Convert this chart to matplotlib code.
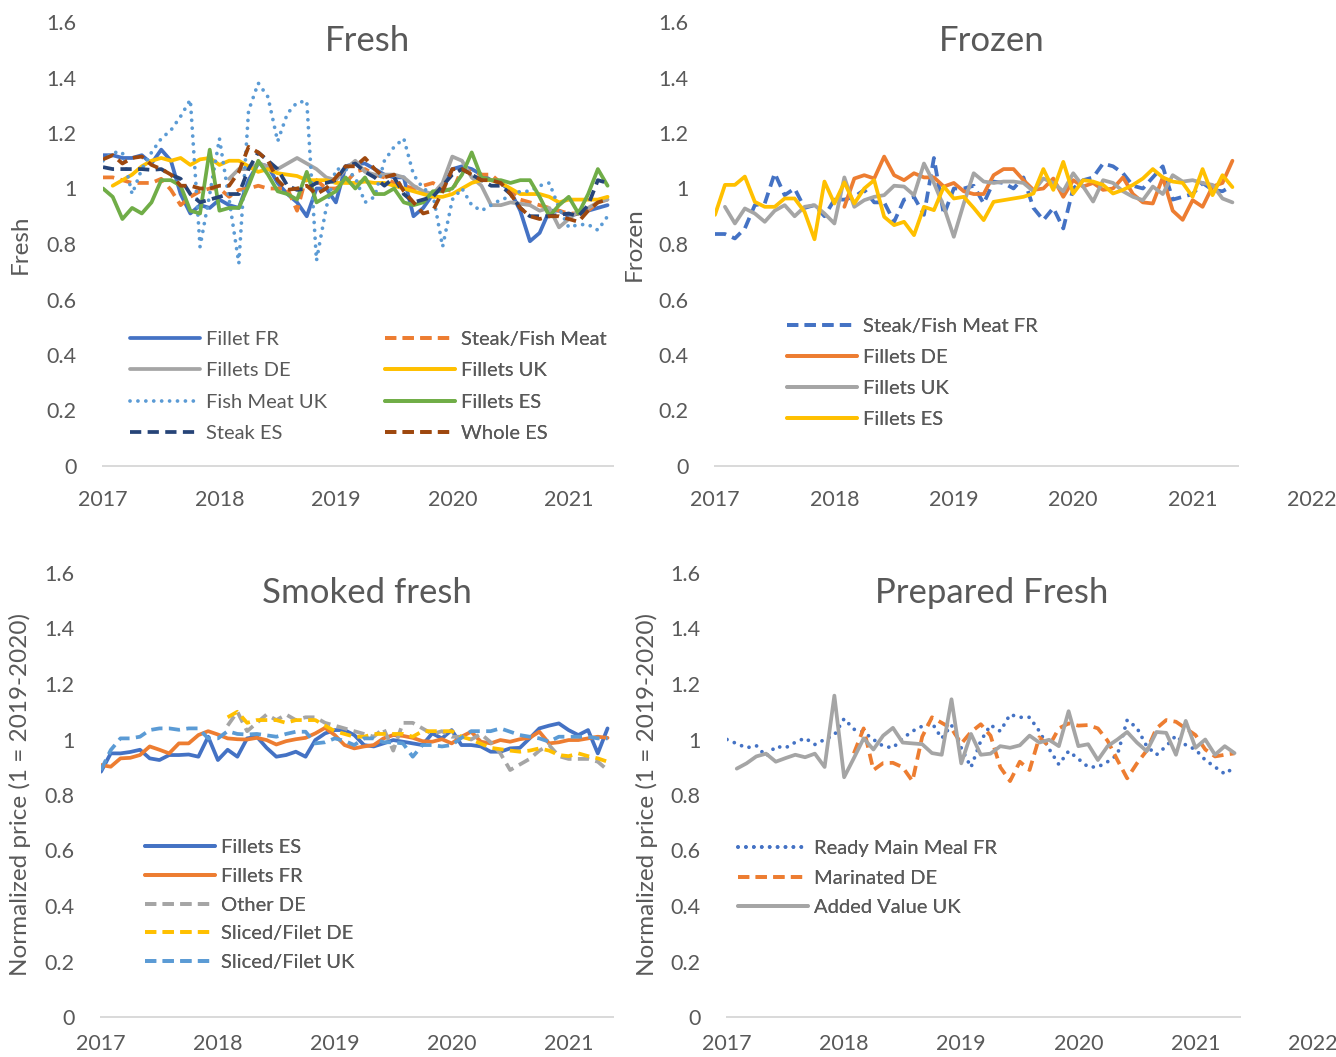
import numpy as np
import matplotlib
matplotlib.use("Agg")
import matplotlib.pyplot as plt
from matplotlib.transforms import blended_transform_factory

nan = np.nan

# ---------------- data (monthly, Jan 2017 .. May 2021) ----------------
months = np.arange(53)
years = 2017 + months / 12.0
year_ticks = [2017, 2018, 2019, 2020, 2021]
y_ticks = [0, 0.2, 0.4, 0.6, 0.8, 1.0, 1.2, 1.4, 1.6]
y_tick_labels = ["0", "0.2", "0.4", "0.6", "0.8", "1", "1.2", "1.4", "1.6"]

# Fresh
fresh_labels = ["Fillet FR", "Steak/Fish Meat FR", "Fillets DE", "Fillets UK",
                "Fish Meat UK", "Fillets ES", "Steak ES", "Whole ES"]
fresh_fillet_fr = [1.12, 1.12, 1.11, 1.11, 1.12, 1.09, 1.14, 1.10, 0.98, 0.91, 0.94, 0.93, 0.96,
                   0.94, 0.93, 1.03, 1.09, 1.08, 1.02, 0.98, 0.95, 0.90, 1.00, 1.00, 0.95, 1.08,
                   1.09, 1.09, 1.07, 1.05, 1.04, 1.04, 0.90, 0.93, 0.98, 1.00, 1.07, 1.08, 1.07,
                   1.05, 1.03, 1.02, 0.99, 0.92, 0.81, 0.84, 0.92, 0.92, 0.90, 0.91, 0.92, 0.93, 0.94]
fresh_steak_fish_fr = [1.04, 1.04, 1.03, 1.02, 1.02, 1.02, 1.035, 0.995, 0.94, 0.97, 0.99, 1.00, 1.00,
                       0.97, 0.995, 1.00, 1.01, 1.00, 1.00, 1.00, 0.92, 1.05, 1.03, 1.00, 1.00, 1.02,
                       1.06, 1.07, 1.05, 1.04, 1.02, 1.01, 1.00, 1.01, 1.02, 1.00, 0.99, 1.07, 1.06,
                       1.05, 1.05, 1.02, 0.99, 0.96, 0.95, 0.94, 0.93, 0.92, 0.91, 0.91, 0.92, 0.95, 0.96]
fresh_fillets_de = [nan] * 13 + [1.035, 1.07, 1.07, 1.09, 1.08, 1.07, 1.09, 1.11, 1.09, 1.07, 1.04, 1.03,
                                 1.07, 1.10, 1.06, 1.05, 1.05, 1.05, 1.04, 1.01, 0.99, 0.98, 1.02, 1.115,
                                 1.10, 1.04, 1.01, 0.94, 0.94, 0.95, 0.945, 0.94, 0.92, 0.93, 0.86, 0.89,
                                 0.92, 0.93, 0.95, 0.96]
fresh_fillets_uk = [nan, 1.01, 1.03, 1.05, 1.08, 1.10, 1.11, 1.10, 1.11, 1.085, 1.105, 1.11, 1.085,
                    1.10, 1.10, 1.08, 1.06, 1.07, 1.055, 1.05, 1.045, 1.03, 1.03, 1.03, 1.02, 1.02,
                    1.02, 1.025, 1.02, 1.02, 1.01, 1.00, 0.99, 0.98, 0.97, 0.97, 0.98, 1.00, 1.02,
                    1.03, 1.03, 1.02, 1.00, 0.98, 0.98, 0.98, 0.97, 0.95, 0.96, 0.96, 0.96, 0.96, 0.97]
fresh_fish_meat_uk = [1.10, 1.13, 1.13, 0.98, 1.07, 1.13, 1.18, 1.21, 1.26, 1.32, 0.79, 0.98, 1.18,
                      0.96, 0.73, 1.28, 1.38, 1.33, 1.17, 1.27, 1.31, 1.315, 0.74, 0.93, 1.07, 1.07,
                      1.04, 0.95, 0.97, 1.10, 1.15, 1.18, 1.05, 1.00, 0.98, 0.79, 0.96, 1.00, 0.94,
                      0.92, 0.94, 0.96, 0.97, 0.99, 0.99, 1.01, 1.02, 0.93, 0.86, 0.87, 0.87, 0.85, 0.90]
fresh_fillets_es = [1.00, 0.97, 0.89, 0.93, 0.91, 0.95, 1.03, 1.03, 1.01, 0.92, 0.91, 1.14, 0.92,
                    0.93, 0.93, 1.01, 1.10, 1.05, 0.99, 0.98, 0.96, 1.06, 0.95, 0.97, 0.99, 1.04,
                    1.00, 1.04, 0.98, 0.98, 1.00, 0.95, 0.94, 0.95, 0.99, 0.99, 1.00, 1.05, 1.13,
                    1.04, 1.03, 1.03, 1.02, 1.03, 1.03, 0.97, 0.90, 0.94, 0.97, 0.91, 0.98, 1.07, 1.01]
fresh_steak_es = [1.077, 1.07, 1.07, 1.07, 1.07, 1.067, 1.07, 1.05, 1.035, 0.98, 0.95, 0.96, 0.97,
                  0.98, 0.98, 1.07, 1.13, 1.10, 1.07, 1.01, 0.995, 1.00, 1.02, 1.02, 1.03, 1.08,
                  1.09, 1.06, 1.04, 1.01, 1.04, 0.98, 0.95, 0.96, 0.97, 1.01, 1.05, 1.07, 1.05,
                  1.03, 1.01, 1.01, 0.98, 0.93, 0.90, 0.90, 0.90, 0.905, 0.91, 0.90, 0.94, 1.03, 1.02]
fresh_whole_es = [1.105, 1.12, 1.09, 1.11, 1.115, 1.085, 1.07, 1.05, 1.01, 1.01, 1.00, 1.00, 1.01,
                  1.01, 1.06, 1.15, 1.13, 1.10, 1.03, 0.995, 1.00, 1.01, 0.98, 1.00, 1.04, 1.08,
                  1.08, 1.11, 1.07, 1.04, 1.05, 0.99, 0.95, 0.91, 0.92, 0.99, 1.07, 1.07, 1.05,
                  1.03, 1.03, 1.02, 0.98, 0.93, 0.90, 0.89, 0.90, 0.90, 0.89, 0.88, 0.92, 0.95, 0.96]

# Frozen
frozen_labels = ["Steak/Fish Meat FR", "Fillets DE", "Fillets UK", "Fillets ES"]
frozen_steak_fish_fr = [0.836, 0.836, 0.82, 0.856, 0.94, 0.946, 1.055, 0.976, 1.00, 0.93, 0.94, 0.90,
                        0.96, 0.96, 0.97, 0.995, 0.95, 0.95, 0.88, 0.96, 0.97, 0.905, 1.11, 0.905,
                        1.00, 1.00, 1.01, 0.946, 1.025, 1.02, 1.00, 1.04, 0.93, 0.886, 0.93, 0.856,
                        1.00, 1.03, 1.04, 1.09, 1.08, 1.055, 1.01, 1.00, 1.04, 1.08, 0.96, 0.97,
                        0.98, 1.02, 0.995, 0.99, 1.01]
frozen_fillets_de = [nan] * 13 + [0.934, 1.036, 1.048, 1.036, 1.115, 1.048, 1.03, 1.055, 1.04, 1.04,
                                  1.007, 1.02, 0.99, 0.98, 0.98, 1.048, 1.07, 1.07, 1.03, 0.995, 1.00,
                                  1.036, 0.97, 1.03, 1.007, 1.02, 0.995, 1.00, 1.04, 0.98, 0.95, 0.946,
                                  1.04, 0.92, 0.887, 0.958, 0.934, 1.007, 1.02, 1.10]
frozen_fillets_uk = [nan, 0.934, 0.874, 0.928, 0.91, 0.88, 0.92, 0.94, 0.90, 0.934, 0.94, 0.91, 0.874,
                     1.04, 0.934, 0.958, 0.97, 0.976, 1.01, 1.007, 0.976, 1.09, 1.02, 0.934, 0.826,
                     0.946, 1.055, 1.025, 1.02, 1.025, 1.025, 1.02, 0.99, 1.036, 1.02, 0.99, 1.055,
                     1.007, 0.953, 1.03, 1.02, 0.99, 0.97, 0.958, 1.007, 0.98, 1.048, 1.025, 1.03,
                     1.02, 1.013, 0.964, 0.95]
frozen_fillets_es = [0.905, 1.013, 1.013, 1.043, 0.952, 0.934, 0.934, 0.964, 0.964, 0.916, 0.817, 1.025,
                     0.946, 1.022, 0.946, 1.00, 1.03, 0.898, 0.868, 0.88, 0.832, 0.934, 0.922, 1.007,
                     0.964, 0.97, 0.93, 0.886, 0.952, 0.958, 0.964, 0.97, 0.982, 1.07, 0.995, 1.096,
                     0.982, 1.03, 1.025, 1.013, 0.982, 0.995, 1.013, 1.036, 1.07, 1.04, 1.025, 1.02,
                     0.97, 1.07, 0.976, 1.048, 1.005]

# Smoked fresh
smoked_labels = ["Fillets ES", "Fillets FR", "Other DE", "Sliced/Filet DE", "Sliced/Filet UK"]
smoked_fillets_es = [0.884, 0.95, 0.95, 0.955, 0.963, 0.932, 0.926, 0.944, 0.944, 0.946, 0.938, 1.01,
                     0.926, 0.963, 0.938, 1.004, 1.01, 0.97, 0.938, 0.944, 0.956, 0.938, 0.998, 1.022,
                     1.034, 1.034, 1.016, 0.98, 0.975, 0.986, 0.998, 0.992, 0.986, 0.98, 1.022, 1.004,
                     1.034, 0.98, 0.98, 0.975, 0.956, 0.956, 0.968, 0.97, 1.004, 1.04, 1.05, 1.058,
                     1.034, 1.016, 1.034, 0.95, 1.04]
smoked_fillets_fr = [0.908, 0.902, 0.932, 0.934, 0.944, 0.975, 0.963, 0.95, 0.986, 0.986, 1.016, 1.03,
                     1.018, 1.004, 1.001, 1.00, 1.006, 0.998, 0.982, 0.994, 1.001, 1.006, 1.022, 1.042,
                     1.016, 0.98, 0.968, 0.975, 0.98, 1.004, 1.016, 1.013, 1.006, 0.994, 0.992, 1.001,
                     0.986, 1.01, 1.028, 0.992, 0.986, 0.998, 0.992, 1.001, 1.006, 1.028, 0.986, 0.99,
                     0.998, 0.998, 1.004, 1.01, 1.006]
smoked_other_de = [nan] * 13 + [1.05, 1.10, 1.03, 1.06, 1.09, 1.07, 1.09, 1.07, 1.08, 1.08, 1.06, 1.05,
                                1.04, 1.03, 1.02, 1.01, 1.04, 0.96, 1.06, 1.06, 1.04, 1.02, 1.03, 1.01,
                                1.01, 1.00, 1.02, 0.99, 0.95, 0.89, 0.91, 0.93, 0.96, 0.98, 0.94, 0.93,
                                0.93, 0.93, 0.92, 0.89]
smoked_sliced_de = [nan] * 13 + [1.08, 1.10, 1.06, 1.07, 1.07, 1.07, 1.06, 1.07, 1.07, 1.07, 1.05, 1.03,
                                 1.02, 1.01, 1.01, 1.02, 1.02, 1.02, 1.02, 1.01, 1.03, 1.03, 1.03, 1.03,
                                 1.01, 1.00, 0.985, 0.97, 0.965, 0.96, 0.956, 0.96, 0.968, 0.96, 0.944,
                                 0.94, 0.95, 0.94, 0.932, 0.92]
smoked_sliced_uk = [0.89, 0.962, 1.004, 1.004, 1.01, 1.034, 1.04, 1.04, 1.035, 1.04, 1.04, 1.004, 1.004,
                    1.03, 1.02, 1.018, 1.02, 1.015, 1.01, 1.02, 1.028, 1.028, 0.986, 0.99, 1.004, 0.995,
                    0.98, 1.004, 1.004, 0.99, 0.99, 0.986, 0.938, 0.98, 0.98, 0.975, 0.98, 1.006, 1.03,
                    1.03, 1.03, 1.04, 1.028, 1.016, 1.01, 1.004, 0.992, 1.01, 1.01, 1.01, 1.01, 1.004,
                    1.004]

# Prepared fresh
prepared_labels = ["Ready Main Meal FR", "Marinated DE", "Added Value UK"]
prep_ready_meal_fr = [1.00, 0.985, 0.97, 0.978, 0.94, 0.975, 0.97, 0.99, 1.005, 0.982, 1.00, 1.016,
                      1.075, 1.037, 1.027, 1.00, 0.976, 0.97, 1.004, 1.03, 1.048, 1.06, 1.004, 1.052,
                      0.97, 0.90, 0.995, 1.052, 1.03, 1.09, 1.08, 1.08, 1.03, 0.966, 0.91, 0.958,
                      0.93, 0.901, 0.901, 0.92, 0.945, 1.07, 1.042, 0.976, 0.945, 0.976, 1.014, 0.98,
                      0.964, 0.926, 0.901, 0.876, 0.90]
prep_marinated_de = [nan] * 13 + [0.95, 1.04, 0.89, 0.915, 0.916, 0.90, 0.85, 1.01, 1.08, 1.06, 1.04,
                                  0.985, 1.027, 1.055, 1.014, 0.90, 0.85, 0.92, 0.89, 1.008, 0.976, 1.04,
                                  1.058, 1.05, 1.052, 1.04, 0.995, 0.926, 0.86, 0.914, 0.96, 1.04, 1.07,
                                  1.064, 1.04, 1.016, 0.964, 0.939, 0.945, 0.95]
prep_added_value_uk = [nan, 0.895, 0.914, 0.939, 0.949, 0.92, 0.933, 0.945, 0.936, 0.949, 0.901, 1.158,
                       0.864, 0.933, 1.004, 0.964, 1.014, 1.042, 0.989, 0.986, 0.983, 0.951, 0.945,
                       1.145, 0.914, 1.02, 0.945, 0.949, 0.976, 0.97, 0.979, 1.014, 0.989, 0.999, 0.976,
                       1.102, 0.976, 0.983, 0.926, 0.976, 1.00, 1.027, 0.989, 0.958, 1.027, 1.024, 0.945,
                       1.067, 0.97, 1.00, 0.945, 0.976, 0.951]

# ---------------- style ----------------
plt.rcParams["font.family"] = ["Lato", "DejaVu Sans"]
TXT = "#595959"
BLUE, ORANGE, GRAY, YELLOW = "#4472C4", "#ED7D31", "#A5A5A5", "#FFC000"
LBLUE, GREEN, NAVY, BROWN = "#5B9BD5", "#70AD47", "#264478", "#9E480E"
LW = 2.7
SOLID = "-"
DASH = (0, (3.0, 1.7))
DOT = (0, (0.01, 2.1))
TICK_FS = 15.5
LEG_FS = 14.5
AX_FS = 17.5
TITLE_FS = 25
X_END = 2021.38

fig = plt.figure(figsize=(13.36, 10.57), dpi=100)
W, H = 1336.0, 1057.0


def make_ax(left, right, top, bottom, ylabel, label_x, extra_2022, xpad):
    ax = fig.add_axes([left / W, 1 - bottom / H, (right - left) / W, (bottom - top) / H])
    ax.set_xlim(2017, X_END)
    ax.set_ylim(0, 1.6)
    for s in ("top", "right", "left"):
        ax.spines[s].set_visible(False)
    ax.spines["bottom"].set_color("#D9D9D9")
    ax.spines["bottom"].set_linewidth(1.4)
    ax.set_xticks(year_ticks)
    ax.set_xticklabels([str(y) for y in year_ticks])
    ax.set_yticks(y_ticks)
    ax.set_yticklabels(y_tick_labels)
    ax.tick_params(axis="both", length=0, labelsize=TICK_FS, labelcolor=TXT)
    ax.tick_params(axis="y", pad=19)
    ax.tick_params(axis="x", pad=xpad)
    ax.set_ylabel(ylabel, fontsize=AX_FS, color=TXT)
    ax.yaxis.set_label_coords(label_x, 0.5)
    if extra_2022:
        tr = blended_transform_factory(ax.transData, ax.transAxes)
        ax.annotate("2022", xy=(2022, 0), xycoords=tr, xytext=(0, -xpad), textcoords="offset points",
                    ha="center", va="top", fontsize=TICK_FS, color=TXT, annotation_clip=False)
    return ax


def add_legend(ax, handles, labels, x0, yc, pitch_px, clip=False):
    fs_px = LEG_FS * 100 / 72.0
    leg = ax.legend(handles, labels, loc="center left", bbox_to_anchor=(x0, yc),
                    frameon=False, borderpad=0, borderaxespad=0, fontsize=LEG_FS,
                    labelcolor=TXT, handlelength=70 / fs_px, handletextpad=6 / fs_px,
                    labelspacing=(pitch_px - 0.86 * fs_px) / fs_px)
    if clip:
        for t in leg.get_texts():
            t.set_clip_box(ax.bbox)
            t.set_clip_on(True)
    ax.add_artist(leg)
    return leg


def plot_series(ax, series):
    handles = []
    for vals, color, ls in series:
        (h,) = ax.plot(years, vals, color=color, lw=LW, linestyle=ls,
                       solid_capstyle="round", solid_joinstyle="round",
                       dash_capstyle="round" if ls == DOT else "butt")
        handles.append(h)
    return handles


# ---- Fresh ----
ax1 = make_ax(103, 613, 22, 466, "Fresh", -0.141, False, 17)
h1 = plot_series(ax1, [
    (fresh_fillet_fr, BLUE, SOLID),
    (fresh_steak_fish_fr, ORANGE, DASH),
    (fresh_fillets_de, GRAY, SOLID),
    (fresh_fillets_uk, YELLOW, SOLID),
    (fresh_fish_meat_uk, LBLUE, DOT),
    (fresh_fillets_es, GREEN, SOLID),
    (fresh_steak_es, NAVY, DASH),
    (fresh_whole_es, BROWN, DASH),
])
yc1 = (466 - 386.5) / 444
add_legend(ax1, h1[0::2], fresh_labels[0::2], (130 - 103) / 510, yc1, 31.6)
add_legend(ax1, h1[1::2], fresh_labels[1::2], (385 - 103) / 510, yc1, 31.6, clip=True)

# ---- Frozen ----
ax2 = make_ax(715, 1238, 22, 466, "Frozen", -0.134, True, 17)
h2 = plot_series(ax2, [
    (frozen_steak_fish_fr, BLUE, DASH),
    (frozen_fillets_de, ORANGE, SOLID),
    (frozen_fillets_uk, GRAY, SOLID),
    (frozen_fillets_es, YELLOW, SOLID),
])
add_legend(ax2, h2, frozen_labels, (787 - 715) / 523, (466 - 372.75) / 444, 31.3)

# ---- Smoked fresh ----
ylab = "Normalized price (1 = 2019-2020)"
ax3 = make_ax(101, 613, 573, 1017, ylab, -0.137, False, 12)
h3 = plot_series(ax3, [
    (smoked_fillets_es, BLUE, SOLID),
    (smoked_fillets_fr, ORANGE, SOLID),
    (smoked_other_de, GRAY, DASH),
    (smoked_sliced_de, YELLOW, DASH),
    (smoked_sliced_uk, LBLUE, DASH),
])
add_legend(ax3, h3, smoked_labels, (145 - 101) / 512, (1017 - 905) / 444, 29.0)

# ---- Prepared Fresh ----
ax4 = make_ax(727, 1240, 573, 1017, ylab, -0.135, True, 12)
h4 = plot_series(ax4, [
    (prep_ready_meal_fr, BLUE, DOT),
    (prep_marinated_de, ORANGE, DASH),
    (prep_added_value_uk, GRAY, SOLID),
])
add_legend(ax4, h4, prepared_labels, (738 - 727) / 513, (1017 - 878) / 444, 30.0)

# ---- titles ----
for txt, cx, cy in [("Fresh", 368, 41), ("Frozen", 992, 41),
                    ("Smoked fresh", 367, 593), ("Prepared Fresh", 992, 593)]:
    fig.text(cx / W, 1 - cy / H, txt, ha="center", va="center", fontsize=TITLE_FS, color=TXT)

fig.savefig("out.png", dpi=100, facecolor="white")
